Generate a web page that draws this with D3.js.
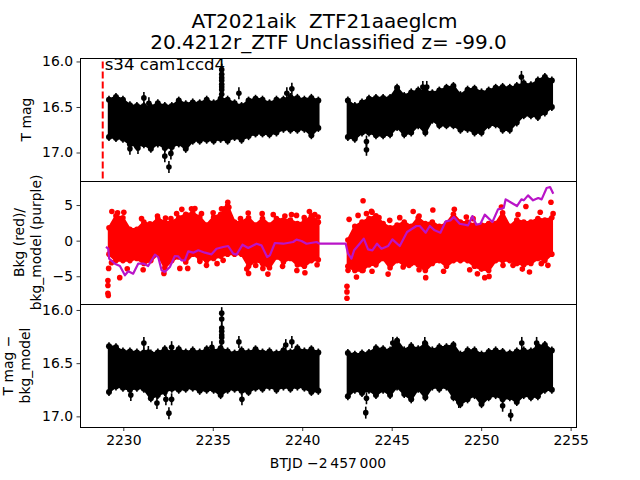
<!DOCTYPE html>
<html><head><meta charset="utf-8">
<script src="https://cdn.jsdelivr.net/npm/d3@7"></script>
<style>html,body{margin:0;padding:0;background:#fff}svg{display:block}text{font-family:"DejaVu Sans",sans-serif;fill:#000;white-space:pre}</style>
</head><body><div id="c"></div>
<script>
// ---- data ----
const titleLines = ["AT2021aik  ZTF21aaeglcm", "20.4212r_ZTF Unclassified z= -99.0"];
const annotation = "s34 cam1ccd4";
const xTicks = [2230, 2235, 2240, 2245, 2250, 2255];
const magTicks = [16.0, 16.5, 17.0];
const bkgTicks = [5, 0, -5];
const markerLine = 2228.85;

// envelope sample times for each sector orbit
const orbit1T = [2229.2,2229.59,2229.98,2230.37,2230.76,2231.15,2231.54,2231.93,2232.32,2232.71,2233.1,2233.49,2233.88,2234.27,2234.66,2235.05,2235.44,2235.83,2236.22,2236.61,2237.0,2237.39,2237.78,2238.17,2238.56,2238.95,2239.34,2239.73,2240.12,2240.51,2240.9];
const orbit2T = [2242.55,2242.94,2243.34,2243.73,2244.12,2244.52,2244.91,2245.3,2245.7,2246.09,2246.48,2246.88,2247.27,2247.66,2248.06,2248.45,2248.84,2249.24,2249.63,2250.02,2250.42,2250.81,2251.2,2251.6,2251.99,2252.38,2252.78,2253.17,2253.56,2253.95];

// top panel: T mag envelope
const magHi1 = [16.42,16.39,16.42,16.48,16.49,16.49,16.50,16.46,16.49,16.49,16.43,16.47,16.45,16.46,16.42,16.46,16.41,16.42,16.46,16.49,16.43,16.41,16.42,16.46,16.42,16.42,16.39,16.40,16.42,16.40,16.43];
const magLo1 = [16.83,16.84,16.85,16.91,16.93,16.91,16.96,16.90,16.95,16.94,16.90,16.96,16.87,16.87,16.86,16.87,16.85,16.87,16.83,16.86,16.82,16.79,16.79,16.80,16.78,16.74,16.75,16.75,16.74,16.81,16.73];
const magHi2 = [16.43,16.49,16.45,16.41,16.40,16.40,16.40,16.29,16.38,16.34,16.32,16.32,16.35,16.32,16.29,16.27,16.37,16.31,16.30,16.34,16.32,16.29,16.28,16.29,16.27,16.24,16.26,16.21,16.17,16.21];
const magLo2 = [16.83,16.85,16.78,16.78,16.81,16.81,16.80,16.72,16.80,16.78,16.70,16.78,16.64,16.70,16.70,16.70,16.75,16.74,16.78,16.78,16.70,16.69,16.75,16.75,16.67,16.59,16.59,16.61,16.56,16.50];
const magOutT = [2231.15,2232.32,2232.55,2232.66,2230.37,2230.82,2231.43,2236.46,2239.14,2239.42,2235.5,2235.5,2235.5,2235.5,2235.5,2235.5,2235.5,2235.5,2243.59,2243.59,2252.25,2246.74,2246.96];
const magOutV = [16.40,17.04,17.16,17.01,16.96,16.95,16.46,16.35,16.35,16.30,16.09,16.14,16.18,16.21,16.25,16.28,16.31,16.36,16.88,16.97,16.17,16.28,16.28];

// middle panel: background envelope and outliers
const bkgHi1 = [1.8,3.5,3.2,1.6,1.6,2.6,2.2,3.1,2.6,2.6,3.2,3.7,3.9,3.3,2.2,3.3,3.7,4.9,2.6,2.6,3.2,2.2,3.1,2.2,3.1,2.9,2.9,2.4,2.6,3.5,2.6];
const bkgLo1 = [-1.9,-2.8,-2.8,-2.8,-2.5,-3.2,-2.8,-1.9,-3.8,-2.8,-2.3,-3.0,-1.9,-2.5,-2.8,-2.5,-2.2,-1.9,-1.9,-1.9,-3.6,-2.8,-3.2,-3.8,-2.3,-3.0,-2.5,-3.4,-3.6,-2.8,-2.7];
const bkgHi2 = [0.1,2.0,2.6,3.1,3.5,2.4,1.8,2.2,2.6,2.0,3.2,2.4,2.6,2.0,2.4,3.7,2.6,2.6,2.2,2.2,2.4,2.4,3.9,2.0,2.9,2.6,2.6,3.1,2.9,3.2];
const bkgLo2 = [-3.6,-4.2,-4.2,-3.4,-3.4,-2.5,-3.8,-2.8,-3.4,-3.2,-3.4,-4.2,-3.2,-2.8,-3.6,-2.8,-2.8,-2.8,-3.6,-4.0,-4.2,-2.8,-2.8,-2.8,-3.2,-3.4,-3.2,-2.5,-2.8,-1.9];
const bkgOutT = [2229.14,2229.14,2229.14,2229.16,2229.18,2229.8,2233.16,2233.6,2236.9,2237.0,2237.4,2237.8,2238.08,2240.15,2239.7,2232.27,2235.84,2235.9,2229.36,2230.03,2233.27,2234.0,2240.4,2242.5,2242.5,2242.5,2243.4,2243.9,2246.2,2247.3,2248.5,2252.5,2253.9,2253.3,2252.7,2252.3,2250.2,2247.9,2244.8,2246.9,2243.9,
  2229.68,2231.02,2231.49,2231.91,2232.36,2232.66,2232.98,2233.81,2234.37,2235.02,2235.49,2235.67,2236.55,2236.98,2237.76,2238.38,2239.03,2239.40,2239.68,2240.11,2240.70,2240.89,2229.34,2230.22,2231.11,2234.28,2234.65,2235.24,2235.58,2238.90,2240.83,
  2242.62,2243.12,2243.59,2243.87,2244.29,2244.89,2245.45,2246.53,2249.17,2249.55,2251.13,2252.06,2254.02,2242.56,2243.03,2243.40,2245.64,2245.97,2246.53,2249.36,2249.79,2250.44,2251.22,2251.78,2253.36,2253.73];
const bkgOutV = [-5.6,-6.3,-7.4,-7.7,-3.9,-5.2,-3.9,-3.9,-4.0,-4.6,-3.5,-3.9,-4.7,-4.5,-4.2,-4.6,5.4,4.7,4.1,4.0,4.4,4.5,4.1,-6.4,-7.2,-8.1,5.6,4.0,4.1,4.3,4.4,4.8,5.4,4.0,-4.4,-4.0,-5.2,-4.3,-4.7,-5.2,-4.3,
  3.93,3.09,2.38,3.46,3.18,3.09,3.79,4.49,3.79,3.93,4.49,4.49,3.09,3.88,3.79,3.65,3.46,3.65,3.55,3.23,3.65,3.32,-3.09,-3.94,-4.08,-2.91,-3.47,-3.23,-2.77,-3.61,-3.38,
  2.99,3.55,3.79,4.12,3.23,2.85,3.23,3.46,3.32,3.09,4.72,3.65,3.79,-4.17,-5.11,-4.17,-3.70,-3.47,-4.08,-4.08,-4.64,-5.02,-3.47,-3.47,-3.23,-3.47];

// background model curve
const modelT = [2229.03,2229.16,2229.21,2229.53,2229.81,2230.09,2230.28,2230.55,2230.83,2231.15,2231.39,2231.77,2231.95,2232.14,2232.32,2232.60,2232.88,2233.07,2233.25,2233.44,2233.63,2233.91,2234.19,2234.56,2234.93,2235.21,2235.58,2235.86,2236.14,2236.33,2236.66,2236.98,2237.45,2237.72,2238.04,2238.19,2238.47,2238.94,2239.49,2239.68,2239.96,2240.24,2240.80,2240.98,2242.43,2242.56,2242.75,2242.90,2243.21,2243.44,2243.68,2243.92,2244.18,2244.43,2244.80,2245.04,2245.45,2245.86,2246.38,2246.57,2246.90,2247.13,2247.40,2247.72,2248.02,2248.28,2248.47,2248.80,2249.27,2249.51,2249.73,2249.96,2250.20,2250.63,2250.94,2251.26,2251.37,2251.69,2252.00,2252.25,2252.38,2252.62,2252.90,2253.19,2253.38,2253.66,2253.85,2254.03];
const modelV = [-0.89,-1.13,-2.53,-3.24,-3.56,-4.87,-4.31,-4.64,-3.24,-3.24,-3.56,-1.97,-2.30,-4.17,-4.41,-3.70,-2.16,-2.21,-2.77,-2.77,-1.50,-1.69,-1.36,-1.69,-1.92,-1.13,-0.89,-0.75,-1.83,-1.97,-0.57,-1.03,-0.43,-0.66,-2.30,-2.06,-0.33,-0.43,-0.19,0.14,-0.05,-0.43,-0.19,-0.43,-0.43,-1.83,-2.53,-1.36,-0.43,0.28,-1.22,-1.36,-0.43,-1.13,-0.75,0.18,-0.75,1.21,2.06,2.06,1.12,2.06,1.45,1.12,2.71,2.85,3.32,2.38,2.15,3.46,2.24,2.38,3.65,2.62,4.40,4.58,5.80,5.33,4.86,5.80,5.66,6.36,5.66,5.99,5.80,7.39,7.53,6.60];

// bottom panel: corrected magnitude envelope
const corrHi1 = [16.34,16.35,16.39,16.39,16.40,16.40,16.41,16.40,16.37,16.40,16.37,16.40,16.38,16.40,16.37,16.39,16.36,16.39,16.41,16.38,16.40,16.37,16.40,16.39,16.41,16.38,16.40,16.36,16.39,16.37,16.40];
const corrLo1 = [16.77,16.72,16.73,16.75,16.73,16.74,16.83,16.80,16.77,16.74,16.75,16.74,16.73,16.76,16.75,16.75,16.80,16.75,16.74,16.76,16.77,16.73,16.74,16.72,16.75,16.72,16.74,16.72,16.73,16.77,16.76];
const corrHi2 = [16.405,16.42,16.41,16.405,16.36,16.37,16.38,16.29,16.38,16.34,16.37,16.32,16.38,16.35,16.35,16.33,16.42,16.38,16.38,16.42,16.395,16.38,16.395,16.41,16.39,16.38,16.39,16.34,16.33,16.38];
const corrLo2 = [16.81,16.75,16.78,16.75,16.80,16.75,16.80,16.72,16.79,16.84,16.74,16.82,16.72,16.74,16.72,16.82,16.885,16.84,16.80,16.885,16.82,16.80,16.84,16.82,16.865,16.80,16.82,16.81,16.75,16.75];
const corrOutT = [2231.15,2231.4,2231.88,2232.38,2232.7,2232.55,2232.7,2234.95,2236.46,2236.63,2239.08,2239.42,2230.42,2235.5,2235.5,2235.5,2235.5,2235.5,2235.5,2235.5,2243.59,2243.55,2251.2,2251.65,2248.75,2245.06,2246.85,2253.1,2252.27];
const corrOutV = [16.31,16.395,16.875,16.84,16.84,16.97,16.35,16.35,16.30,16.84,16.33,16.30,16.80,16.03,16.085,16.17,16.20,16.235,16.26,16.30,16.83,16.965,16.90,16.99,16.865,16.31,16.31,16.31,16.31];

// ---- layout ----
const W = 640, H = 480, L = 80, R = 576;
const svg = d3.select("#c").append("svg").attr("width", W).attr("height", H);
const x = d3.scaleLinear().domain([2227.58, 2255.3]).range([L, R]);
const panels = [
  {top: 58, bottom: 181, dom: [15.962, 17.313], ticks: magTicks, fmt: d3.format(".1f")},
  {top: 181, bottom: 304, dom: [8.38, -8.90], ticks: bkgTicks, fmt: d => d3.format("d")(d).replace("-", "\u2212")},
  {top: 304, bottom: 427, dom: [15.944, 17.10], ticks: magTicks, fmt: d3.format(".1f")}
];
panels.forEach(p => { p.y = d3.scaleLinear().domain(p.dom).range([p.top, p.bottom]); p.g = svg.append("g"); });

function band(p, t, hi, lo, color, r, err) {
  const rows = t.map((d, i) => ({t: d, hi: hi[i], lo: lo[i]}));
  p.g.append("path")
    .attr("d", d3.area().x(d => x(d.t)).y0(d => p.y(d.hi)).y1(d => p.y(d.lo))(rows))
    .attr("fill", color).attr("stroke", color).attr("stroke-width", 2.4).attr("stroke-linejoin", "round");
  const ends = rows.flatMap(d => [{t: d.t, v: d.hi}, {t: d.t, v: d.lo}]);
  p.g.append("g").selectAll("circle").data(ends).join("circle")
    .attr("cx", d => x(d.t)).attr("cy", d => p.y(d.v)).attr("r", r).attr("fill", color);
  if (err) p.g.append("g").selectAll("line").data(ends).join("line")
    .attr("x1", d => x(d.t)).attr("x2", d => x(d.t))
    .attr("y1", d => p.y(d.v) - err).attr("y2", d => p.y(d.v) + err)
    .attr("stroke", color).attr("stroke-width", 1.6);
}
function points(p, t, v, color, r, err) {
  const rows = t.map((d, i) => ({t: d, v: v[i]}));
  if (err) p.g.append("g").selectAll("line").data(rows).join("line")
    .attr("x1", d => x(d.t)).attr("x2", d => x(d.t))
    .attr("y1", d => p.y(d.v) - err).attr("y2", d => p.y(d.v) + err)
    .attr("stroke", color).attr("stroke-width", 1.6);
  p.g.append("g").selectAll("circle").data(rows).join("circle")
    .attr("cx", d => x(d.t)).attr("cy", d => p.y(d.v)).attr("r", r).attr("fill", color);
}

// top
band(panels[0], orbit1T, magHi1, magLo1, "#000", 3, 4);
band(panels[0], orbit2T, magHi2, magLo2, "#000", 3, 4);
points(panels[0], magOutT, magOutV, "#000", 2.8, 6);
panels[0].g.append("line").attr("x1", x(markerLine)).attr("x2", x(markerLine))
  .attr("y1", panels[0].y(16.0)).attr("y2", 181)
  .attr("stroke", "#f00").attr("stroke-width", 2).attr("stroke-dasharray", "7,3");
panels[0].g.append("text").attr("x", x(markerLine) + 2).attr("y", 70)
  .attr("font-size", 16.6).text(annotation);

// middle
band(panels[1], orbit1T, bkgHi1, bkgLo1, "#f00", 2.8, 0);
band(panels[1], orbit2T, bkgHi2, bkgLo2, "#f00", 2.8, 0);
points(panels[1], bkgOutT, bkgOutV, "#f00", 2.8, 0);
panels[1].g.append("path")
  .attr("d", d3.line().x((d, i) => x(modelT[i])).y((d, i) => panels[1].y(d))(modelV))
  .attr("fill", "none").attr("stroke", "#b914c8").attr("stroke-width", 2.2).attr("stroke-linejoin", "round");

// bottom
band(panels[2], orbit1T, corrHi1, corrLo1, "#000", 3, 4);
band(panels[2], orbit2T, corrHi2, corrLo2, "#000", 3, 4);
points(panels[2], corrOutT, corrOutV, "#000", 2.8, 6);

// axes
panels.forEach(p => {
  const a = svg.append("g").attr("transform", `translate(${L},0)`)
    .call(d3.axisLeft(p.y).tickValues(p.ticks).tickFormat(p.fmt).tickSize(3.5).tickPadding(3.5));
  a.select(".domain").remove();
  a.selectAll("text").attr("font-size", 13.9).style("font-family", '"DejaVu Sans"');
  a.selectAll("line").attr("stroke", "#000").attr("stroke-width", 0.8);
  svg.append("rect").attr("x", L + .5).attr("y", p.top + .5).attr("width", R - L).attr("height", p.bottom - p.top)
    .attr("fill", "none").attr("stroke", "#000").attr("stroke-width", 1);
});
const bx = svg.append("g").attr("transform", "translate(0,427.5)")
  .call(d3.axisBottom(x).tickValues(xTicks).tickFormat(d3.format("d")).tickSize(3.5).tickPadding(4.5));
bx.select(".domain").remove();
bx.selectAll("text").attr("font-size", 13.9).style("font-family", '"DejaVu Sans"');
bx.selectAll("line").attr("stroke", "#000").attr("stroke-width", 0.8);

// labels
svg.append("text").attr("x", 328).attr("y", 468).attr("text-anchor", "middle").attr("font-size", 13.9)
  .text("BTJD \u22122\u2009457\u2009000");
[324.5, 328.5].forEach((cx, i) => svg.append("text").attr("x", cx).attr("y", 28 + i * 20.5)
  .attr("text-anchor", "middle").attr("font-size", 20).text(titleLines[i]));
function ylab(lines, xs, cy) {
  lines.forEach((s, i) => svg.append("text").attr("transform", `translate(${xs[i]},${cy}) rotate(-90)`)
    .attr("text-anchor", "middle").attr("font-size", 13.9).text(s));
}
ylab(["T mag"], [31], 119.5);
ylab(["Bkg (red)/", "bkg_model (purple)"], [24, 41], 242.5);
ylab(["T mag \u2212", "bkg_model"], [13, 30], 365.5);
</script></body></html>
